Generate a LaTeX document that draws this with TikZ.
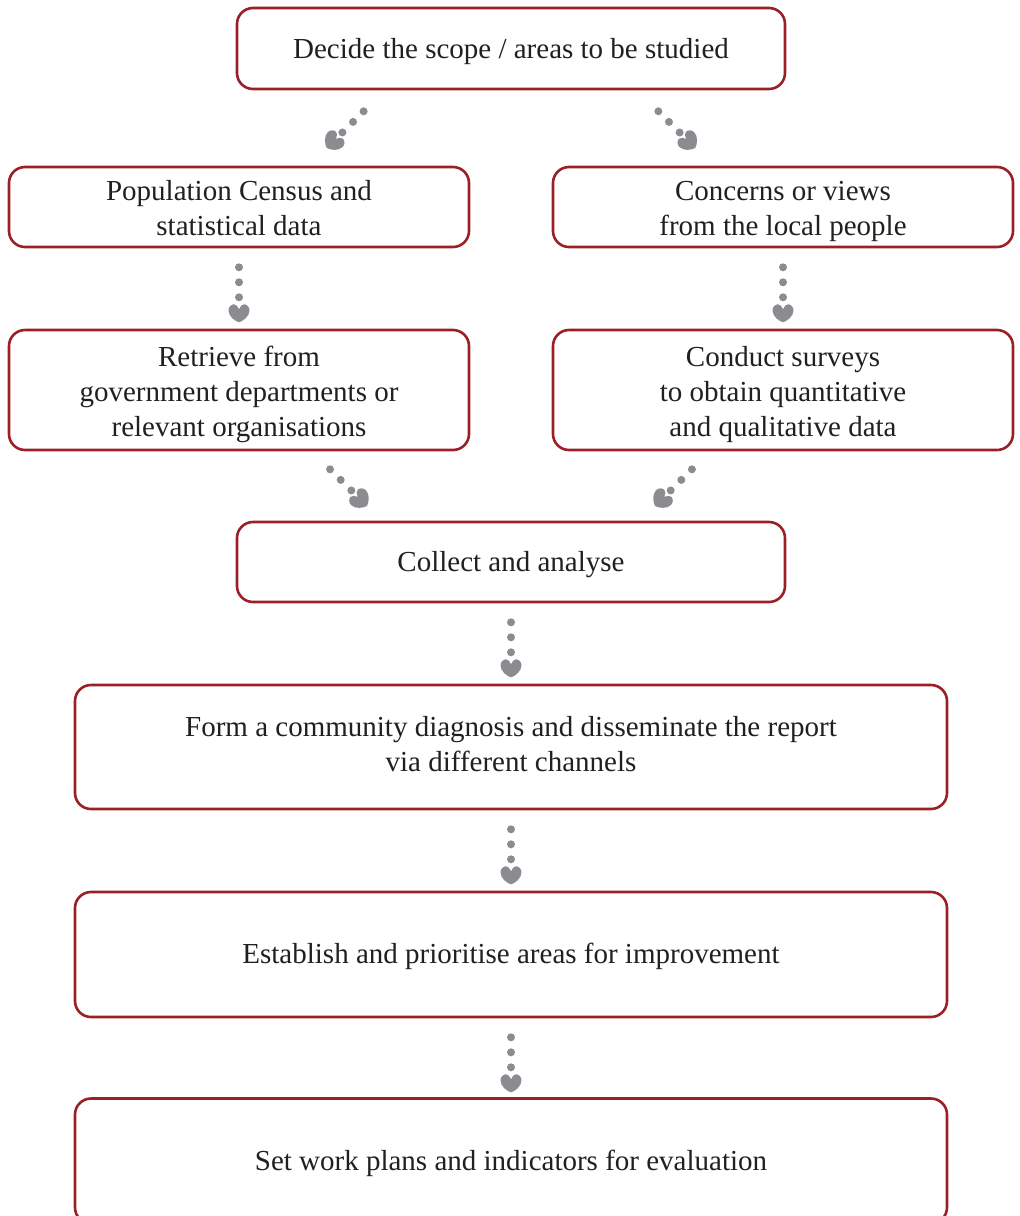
\documentclass[tikz,border=0pt]{standalone}
\usepackage{fontspec}
\setmainfont{Liberation Serif}
\usetikzlibrary{calc,decorations.markings}
\definecolor{boxred}{RGB}{155,32,38}
\definecolor{dotgray}{RGB}{140,140,144}
\definecolor{txt}{RGB}{35,31,32}
\newcommand\boxtext[2]{\raisebox{-#1pt}[\height][\depth]{\begin{tabular}{@{}c@{}}#2\end{tabular}}}
\tikzset{
  box/.style={draw=boxred, line width=2.6pt, rounded corners=16pt, fill=white,
    text=txt, inner sep=0pt, font=\fontsize{29}{35}\selectfont},
  dotarrow/.style={postaction={decorate}, decoration={markings,
    mark=at position 19pt with {\fill[dotgray] (0,0) circle (4);},
    mark=at position 34pt with {\fill[dotgray] (0,0) circle (4);},
    mark=at position 49pt with {\fill[dotgray] (0,0) circle (4);},
    mark=at position #1 with {\fill[dotgray] (9,0) .. controls (8,-4) and (3,-10.5) .. (-3,-10.5)
      .. controls (-7,-10.5) and (-9,-7) .. (-9,-5) .. controls (-9,-3) and (-7,-1) .. (-4,0)
      .. controls (-7,1) and (-9,3) .. (-9,5) .. controls (-9,7) and (-7,10.5) .. (-3,10.5)
      .. controls (3,10.5) and (8,4) .. (9,0) -- cycle;}}},
  dotarrow/.default=65pt
}
\begin{document}
\begin{tikzpicture}[x=1pt,y=1pt]
\useasboundingbox (0,0) rectangle (1020,-1216);
\node[box, minimum width=548, minimum height=81] (b1) at (511,-48.5) {\boxtext{2.5}{Decide the scope / areas to be studied}};
\node[box, minimum width=460, minimum height=80] (b2) at (239,-207) {\boxtext{3.5}{Population Census and\\statistical data}};
\node[box, minimum width=460, minimum height=80] (b3) at (783,-207) {\boxtext{3.5}{Concerns or views\\from the local people}};
\node[box, minimum width=460, minimum height=120] (b4) at (239,-390) {\boxtext{4.5}{Retrieve from\\government departments or\\relevant organisations}};
\node[box, minimum width=460, minimum height=120] (b5) at (783,-390) {\boxtext{4.5}{Conduct surveys\\to obtain quantitative\\and qualitative data}};
\node[box, minimum width=548, minimum height=80] (b6) at (511,-562) {\boxtext{2}{Collect and analyse}};
\node[box, minimum width=872, minimum height=124] (b7) at (511,-747) {\boxtext{0}{Form a community diagnosis and disseminate the report\\via different channels}};
\node[box, minimum width=872, minimum height=125] (b8) at (511,-954.5) {\boxtext{1.5}{Establish and prioritise areas for improvement}};
\node[box, minimum width=872, minimum height=125] (b9) at (511,-1161) {\boxtext{2}{Set work plans and indicators for evaluation}};
% diagonal connectors
\path[dotarrow=62pt] ($(b1.south west)+(141.4,-7.6)$) -- ($(b2.north)+(68.4,-1.6)$);
\path[dotarrow=62pt] ($(b1.south east)+(-141.4,-7.6)$) -- ($(b3.north)+(-68.4,-1.6)$);
\path[dotarrow=62pt] ($(b4.south)+(77.6,-4.6)$) -- ($(b6.north west)+(150.6,-4.6)$);
\path[dotarrow=62pt] ($(b5.south)+(-77.6,-4.6)$) -- ($(b6.north east)+(-150.6,-4.6)$);
% vertical connectors
\path[dotarrow] (b2.south) -- (b4.north);
\path[dotarrow] (b3.south) -- (b5.north);
\path[dotarrow] (b6.south) -- (b7.north);
\path[dotarrow] (b7.south) -- (b8.north);
\path[dotarrow] (b8.south) -- (b9.north);
\end{tikzpicture}
\end{document}
